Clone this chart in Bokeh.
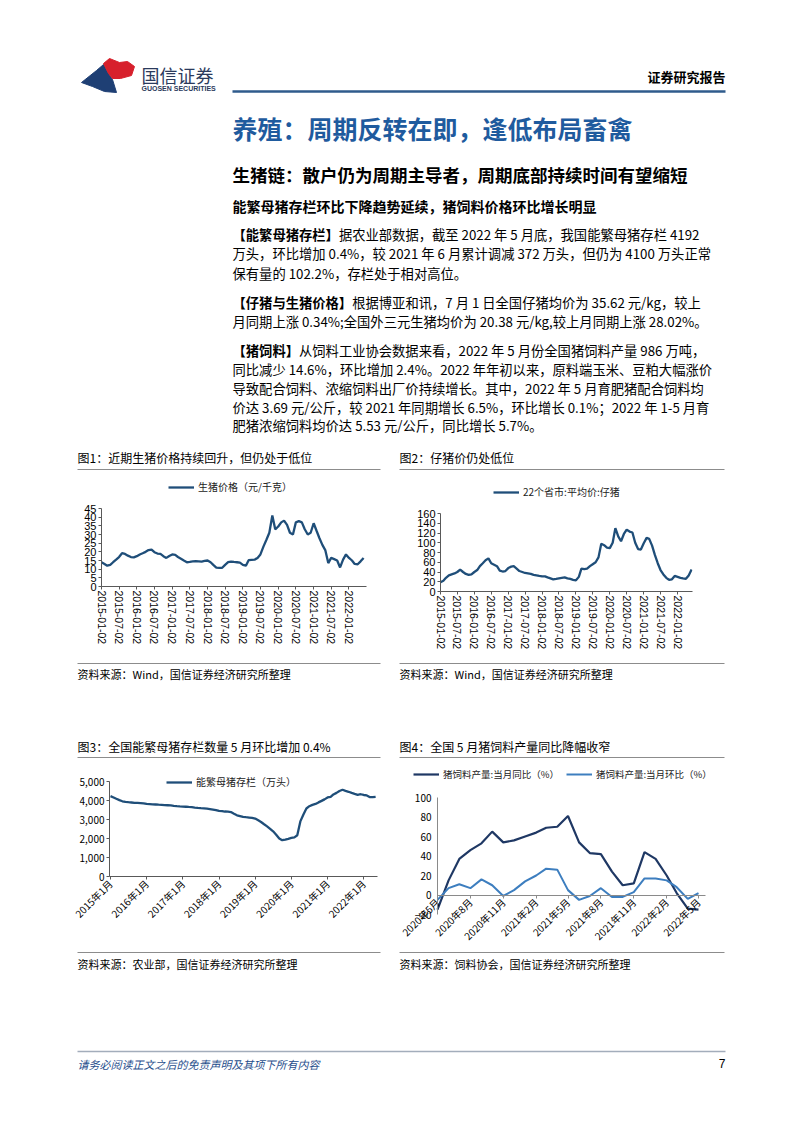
import math
import pandas as pd
from bokeh.plotting import figure
from bokeh.layouts import column, row
from bokeh.models import (Range1d, FixedTicker, DatetimeTickFormatter, NumeralTickFormatter,
                          Legend, LegendItem)
from bokeh.core.properties import value
from bokeh.embed import file_html
from bokeh.resources import INLINE

CJK = "Noto Sans CJK SC"
LAT = "Liberation Sans"

# ---------------- data ----------------
hog_dates = pd.date_range("2015-01-01", periods=90, freq="MS") + pd.Timedelta(days=1)
hog_price = [14.0, 13.0, 12.0, 12.5, 14.0, 15.5, 17.0, 19.2, 18.8, 17.8, 17.0, 16.8,
             17.5, 18.5, 19.2, 20.0, 21.0, 21.3, 19.8, 19.0, 18.8, 17.5, 16.5, 17.6,
             18.5, 18.2, 17.0, 16.0, 15.0, 14.0, 14.2, 14.5, 14.6, 14.5, 14.4, 14.8,
             15.0, 14.0, 12.5, 10.9, 10.8, 10.8, 12.5, 14.0, 14.4, 14.2, 14.0, 13.8,
             12.5, 12.0, 15.2, 15.4, 15.5, 16.5, 18.5, 23.0, 27.0, 31.0, 41.0, 33.0,
             34.6, 37.0, 38.0, 35.5, 31.0, 30.0, 37.0, 37.7, 37.0, 33.0, 30.0, 31.0,
             36.5, 32.0, 28.0, 24.0, 21.0, 13.5, 16.5, 15.8, 15.0, 11.0, 15.5, 18.5,
             16.5, 15.0, 13.0, 12.8, 14.5, 16.5]
piglet_price = [19, 22, 28, 33, 35, 37, 40, 45, 40, 36, 34, 35,
                40, 44, 52, 58, 64, 68, 58, 55, 52, 43, 41, 42,
                48, 51, 52, 47, 42, 40, 38, 37, 36, 34, 33, 32,
                31, 31, 29, 27, 25, 26, 27, 28, 29, 27, 26, 24,
                23, 30, 47, 46, 47, 52, 56, 60, 70, 98, 95, 90,
                89, 100, 130, 113, 103, 118, 127, 123, 121, 100, 87, 86,
                99, 110, 108, 94, 75, 58, 44, 35, 28, 24, 25, 32,
                30, 28, 27, 26, 33, 45]
sow_dates = pd.date_range("2015-01-01", periods=89, freq="MS")
sow_stock = [4230, 4160, 4090, 4020, 3960, 3930, 3910, 3895, 3880, 3870, 3860, 3850,
             3820, 3810, 3800, 3790, 3780, 3770, 3760, 3750, 3740, 3720, 3700, 3690,
             3680, 3670, 3660, 3650, 3630, 3610, 3600, 3590, 3570, 3550, 3520, 3490,
             3450, 3440, 3420, 3410, 3390, 3300, 3220, 3180, 3140, 3120, 3100, 3080,
             3050, 2960, 2870, 2750, 2640, 2510, 2380, 2200, 2000, 1910, 1940, 1980,
             2030, 2060, 2170, 2900, 3250, 3580, 3700, 3770, 3820, 3900, 3980, 4060,
             4160, 4190, 4318, 4400, 4500, 4564, 4506, 4459, 4400, 4348, 4296, 4329,
             4290, 4268, 4185, 4177, 4192]
feed_dates = pd.date_range("2020-05-01", periods=25, freq="MS")
feed_yoy = [-15, 15, 37, 46, 53, 65, 54, 56, 60, 64, 69, 70, 81, 54, 43, 42, 24, 10, 12, 44, 37, 20, 2, -14, -15]
feed_mom = [-5, 7, 11, 7, 16, 10, -1, 5, 14, 20, 27, 26, 5, -5, -1, 7, -2, -2, 3, 17, 17, 15, 8, -4, 2]

hog_ticks = ["2015-01-02", "2015-07-02", "2016-01-02", "2016-07-02", "2017-01-02", "2017-07-02",
             "2018-01-02", "2018-07-02", "2019-01-02", "2019-07-02", "2020-01-02", "2020-07-02",
             "2021-01-02", "2021-07-02", "2022-01-02"]
sow_ticks = ["2015-01-01", "2016-01-01", "2017-01-01", "2018-01-01", "2019-01-01",
             "2020-01-01", "2021-01-01", "2022-01-01"]
feed_ticks = ["2020-05-01", "2020-08-01", "2020-11-01", "2021-02-01", "2021-05-01",
              "2021-08-01", "2021-11-01", "2022-02-01", "2022-05-01"]
hog_yticks = [0, 5, 10, 15, 20, 25, 30, 35, 40, 45]
piglet_yticks = [0, 20, 40, 60, 80, 100, 120, 140, 160]
sow_yticks = [0, 1000, 2000, 3000, 4000, 5000]
feed_yticks = [-20, 0, 20, 40, 60, 80, 100]

hog_label = "生猪价格（元/千克）"
piglet_label = "22个省市:平均价:仔猪"
sow_label = "能繁母猪存栏（万头）"
yoy_label = "猪饲料产量:当月同比（%）"
mom_label = "猪饲料产量:当月环比（%）"

para_lines = [
    ("【能繁母猪存栏】", "据农业部数据，截至 2022 年 5 月底，我国能繁母猪存栏 4192", 234),
    ("", "万头，环比增加 0.4%，较 2021 年 6 月累计调减 372 万头，但仍为 4100 万头正常", 253),
    ("", "保有量的 102.2%，存栏处于相对高位。", 273),
    ("【仔猪与生猪价格】", "根据博亚和讯，7 月 1 日全国仔猪均价为 35.62 元/kg，较上", 302),
    ("", "月同期上涨 0.34%;全国外三元生猪均价为 20.38 元/kg,较上月同期上涨 28.02%。", 321),
    ("【猪饲料】", "从饲料工业协会数据来看，2022 年 5 月份全国猪饲料产量 986 万吨，", 350),
    ("", "同比减少 14.6%，环比增加 2.4%。2022 年年初以来，原料端玉米、豆粕大幅涨价", 369),
    ("", "导致配合饲料、浓缩饲料出厂价持续增长。其中，2022 年 5 月育肥猪配合饲料均", 388),
    ("", "价达 3.69 元/公斤，较 2021 年同期增长 6.5%，环比增长 0.1%；2022 年 1-5 月育", 407),
    ("", "肥猪浓缩饲料均价达 5.53 元/公斤，同比增长 5.7%。", 425),
]
BODY = 13.3


def ms(s):
    return pd.Timestamp(s).value // 10**6


def page_fig(x0, x1, y0, y1):
    p = figure(width=x1 - x0, height=y1 - y0, x_range=Range1d(x0, x1), y_range=Range1d(y1, y0),
               x_axis_type=None, y_axis_type=None, output_backend="svg",
               toolbar_location=None, title=None, min_border=0)
    p.grid.visible = False
    p.outline_line_color = None
    p.frame_align = False
    return p


def txt(p, x, y, s, size, color="#000000", bold=False, italic=False, align="left", font=CJK):
    style = "bold italic" if (bold and italic) else ("bold" if bold else ("italic" if italic else "normal"))
    p.text(x=[x], y=[y], text=[s], text_font=value(font), text_font_size=size, text_color=color,
           text_font_style=style, text_align=align, text_baseline="middle")


def hline(p, x0, x1, y, color, width=1.0):
    p.line(x=[x0, x1], y=[y, y], line_color=color, line_width=width)


def extend_range(v_lo, v_hi, px_lo, px_hi, frame_lo, frame_hi):
    # v_lo at pixel px_lo, v_hi at pixel px_hi; return values at frame edges
    k = (v_hi - v_lo) / (px_hi - px_lo)
    return v_lo + (frame_lo - px_lo) * k, v_lo + (frame_hi - px_lo) * k


def chart_fig(w, h, left, right, top, bottom, xr, yr):
    p = figure(width=w, height=h, x_axis_type="datetime", x_range=xr, y_range=yr,
               output_backend="svg", toolbar_location=None, title=None,
               min_border_left=left, min_border_right=right,
               min_border_top=top, min_border_bottom=bottom)
    p.grid.visible = False
    p.outline_line_color = None
    p.frame_align = False
    return p


def style_axes(p, font, size, axis_color="#595959", label_color="#000000"):
    for ax in (p.xaxis[0], p.yaxis[0]):
        ax.axis_line_color = axis_color
        ax.axis_line_width = 1
        ax.major_tick_line_color = axis_color
        ax.minor_tick_line_color = None
        ax.major_tick_in = 0
        ax.major_tick_out = 3
        ax.major_label_text_font = font
        ax.major_label_text_font_size = size
        ax.major_label_text_color = label_color
        ax.major_label_standoff = 2


def date_fmt(fmt):
    return DatetimeTickFormatter(microseconds=fmt, milliseconds=fmt, seconds=fmt, minsec=fmt,
                                 minutes=fmt, hourmin=fmt, hours=fmt, days=fmt, months=fmt, years=fmt)


def add_legend(p, items, loc, orientation="vertical", spacing=0, size="10px"):
    lg = Legend(items=items, location=loc, orientation=orientation, border_line_color=None,
                background_fill_alpha=0, padding=0, margin=0, spacing=spacing,
                glyph_width=26, glyph_height=12, label_height=12, label_standoff=4,
                label_text_font=CJK, label_text_font_size=size, label_text_color="#222222")
    p.add_layout(lg)


# ---------------- header band ----------------
p0 = page_fig(0, 802, 0, 440)
p0.patch(x=[81, 96, 103, 108, 112, 116, 104, 92], y=[82, 70, 64, 73, 79, 92, 91, 86], color="#1e3f74")
p0.patch(x=[103, 109, 119, 127, 134, 131, 120, 112, 108], y=[63, 58, 62, 61, 66, 75, 78, 78, 73], color="#d7202c")
txt(p0, 141, 74, "国信证券", "18px", color="#2b3a5c")
txt(p0, 141, 88, "GUOSEN SECURITIES", "7px", color="#2b3a5c", bold=True, font=LAT)
txt(p0, 725, 76, "证券研究报告", "13px", bold=True, align="right")
hline(p0, 232, 725, 91, "#2f5b8c", 2.5)
txt(p0, 232, 127, "养殖：周期反转在即，逢低布局畜禽", "25px", color="#1f5b9e", bold=True)
txt(p0, 232, 174, "生猪链：散户仍为周期主导者，周期底部持续时间有望缩短", "17.5px", bold=True)
txt(p0, 232, 205, "能繁母猪存栏环比下降趋势延续，猪饲料价格环比增长明显", "14px", bold=True)
for head, rest, yy in para_lines:
    x = 232
    if head:
        txt(p0, x, yy, head, f"{BODY}px", bold=True)
        x += BODY * len(head)
    txt(p0, x, yy, rest, f"{BODY}px")

# ---------------- charts 1 & 2 ----------------
t1 = page_fig(0, 390, 440, 470)
txt(t1, 77, 457, "图1：近期生猪价格持续回升，但仍处于低位", "12px")
hline(t1, 77, 380, 469, "#8c8c8c", 1)
t2 = page_fig(390, 802, 440, 470)
txt(t2, 399, 457, "图2：仔猪价仍处低位", "12px")
hline(t2, 399, 724, 469, "#8c8c8c", 1)

# chart 1: frame 101..366 x, 470..586 y (0 at 586, 45 at 508)
y_lo, y_hi = extend_range(0, 45, 586, 508, 586, 470)
c1 = chart_fig(390, 185, 101, 24, 0, 69,
               Range1d(ms("2015-01-02"), ms("2022-07-02")), Range1d(y_lo, y_hi))
r1 = c1.line(hog_dates, hog_price, line_color="#1f4e79", line_width=2.3)
style_axes(c1, LAT, "11px")
c1.yaxis.ticker = FixedTicker(ticks=hog_yticks)
c1.yaxis.bounds = (0, 45)
c1.xaxis.ticker = FixedTicker(ticks=[ms(t) for t in hog_ticks])
c1.xaxis.formatter = date_fmt("%Y-%m-%d")
c1.xaxis.major_label_orientation = "vertical"
c1.xaxis.major_label_text_font_size = "10.5px"
c1.xaxis.major_label_standoff = 1
add_legend(c1, [LegendItem(label=hog_label, renderers=[r1])], (67, 92))

# chart 2: frame 440..692 x, 470..591 y (0 at 591, 160 at 513)
y_lo, y_hi = extend_range(0, 160, 591, 513, 591, 470)
c2 = chart_fig(412, 185, 50, 110, 0, 64,
               Range1d(ms("2015-01-02"), ms("2022-06-12")), Range1d(y_lo, y_hi))
r2 = c2.line(hog_dates, piglet_price, line_color="#1f4e79", line_width=2.3)
style_axes(c2, LAT, "11px")
c2.yaxis.ticker = FixedTicker(ticks=piglet_yticks)
c2.yaxis.bounds = (0, 160)
c2.xaxis.ticker = FixedTicker(ticks=[ms(t) for t in hog_ticks])
c2.xaxis.formatter = date_fmt("%Y-%m-%d")
c2.xaxis.major_label_orientation = "vertical"
c2.xaxis.major_label_text_font_size = "10.5px"
c2.xaxis.major_label_standoff = 1
add_legend(c2, [LegendItem(label=piglet_label, renderers=[r2])], (53, 92))

s1 = page_fig(0, 390, 655, 730)
hline(s1, 77, 380, 663, "#8c8c8c", 1)
txt(s1, 77, 673, "资料来源：Wind，国信证券经济研究所整理", "11px")
s2 = page_fig(390, 802, 655, 730)
hline(s2, 399, 724, 663, "#8c8c8c", 1)
txt(s2, 399, 673, "资料来源：Wind，国信证券经济研究所整理", "11px")

# ---------------- charts 3 & 4 ----------------
t3 = page_fig(0, 390, 730, 760)
txt(t3, 77, 746, "图3：全国能繁母猪存栏数量 5 月环比增加 0.4%", "12px")
hline(t3, 77, 380, 757, "#8c8c8c", 1)
t4 = page_fig(390, 802, 730, 760)
txt(t4, 399, 746, "图4：全国 5 月猪饲料产量同比降幅收窄", "12px")
hline(t4, 399, 724, 757, "#8c8c8c", 1)

# chart 3: frame 109..377 x, 760..876 y (0 at 876, 5000 at 781)
y_lo, y_hi = extend_range(0, 5000, 876, 781, 876, 760)
c3 = chart_fig(390, 185, 109, 13, 0, 69,
               Range1d(ms("2014-12-22"), ms("2022-05-20")), Range1d(y_lo, y_hi))
r3 = c3.line(sow_dates, sow_stock, line_color="#1f4e79", line_width=2.3)
style_axes(c3, CJK, "10px")
c3.yaxis.ticker = FixedTicker(ticks=sow_yticks)
c3.yaxis.bounds = (0, 5000)
c3.yaxis.formatter = NumeralTickFormatter(format="0,0")
c3.xaxis.ticker = FixedTicker(ticks=[ms(t) for t in sow_ticks])
c3.xaxis.formatter = date_fmt("%Y年%-m月")
c3.xaxis.major_label_orientation = math.pi / 4
add_legend(c3, [LegendItem(label=sow_label, renderers=[r3])], (57, 87))

# chart 4: frame 400..760 x, 760..945 y; 2020-05 at 437, 2022-05 at 698; -20 at 914, 100 at 797
x_lo, x_hi = extend_range(ms("2020-05-01"), ms("2022-05-01"), 437, 698, 400, 760)
x_axis_end = extend_range(ms("2020-05-01"), ms("2022-05-01"), 437, 698, 437, 705)[1]
y_lo, y_hi = extend_range(-20, 100, 914, 797, 945, 760)
c4 = chart_fig(412, 185, 10, 42, 0, 0, Range1d(x_lo, x_hi), Range1d(y_lo, y_hi))
r4a = c4.line(feed_dates, feed_yoy, line_color="#1f3864", line_width=2.2)
r4b = c4.line(feed_dates, feed_mom, line_color="#3d7ebf", line_width=2.0)
style_axes(c4, CJK, "10px", axis_color="#8a8a8a")
c4.xaxis.fixed_location = 0
c4.xaxis.bounds = (ms("2020-05-01"), x_axis_end)
c4.yaxis.fixed_location = ms("2020-05-01")
c4.yaxis.ticker = FixedTicker(ticks=feed_yticks)
c4.yaxis.bounds = (-20, 100)
c4.xaxis.ticker = FixedTicker(ticks=[ms(t) for t in feed_ticks])
c4.xaxis.formatter = date_fmt("%Y年%-m月")
c4.xaxis.major_label_orientation = math.pi / 4
c4.yaxis.major_tick_out = 0
c4.yaxis.major_label_standoff = 6
add_legend(c4, [LegendItem(label=yoy_label, renderers=[r4a]),
                LegendItem(label=mom_label, renderers=[r4b])], (13, 164),
           orientation="horizontal", spacing=7, size="9.5px")

s3 = page_fig(0, 390, 945, 980)
hline(s3, 77, 380, 952, "#8c8c8c", 1)
txt(s3, 77, 963, "资料来源：农业部，国信证券经济研究所整理", "11px")
s4 = page_fig(390, 802, 945, 980)
hline(s4, 399, 724, 952, "#8c8c8c", 1)
txt(s4, 399, 963, "资料来源：饲料协会，国信证券经济研究所整理", "11px")

# ---------------- footer ----------------
pf = page_fig(0, 802, 980, 1133)
hline(pf, 77, 725, 1051, "#a3adbb", 1.5)
txt(pf, 77, 1063, "请务必阅读正文之后的免责声明及其项下所有内容", "11px", color="#1f4e8c", italic=True)
txt(pf, 725, 1063, "7", "12px", align="right", font=LAT)

layout = column(
    p0,
    row(column(t1, c1, s1), column(t2, c2, s2)),
    row(column(t3, c3, s3), column(t4, c4, s4)),
    pf,
)

open("out.html", "w").write(file_html(layout, INLINE))
